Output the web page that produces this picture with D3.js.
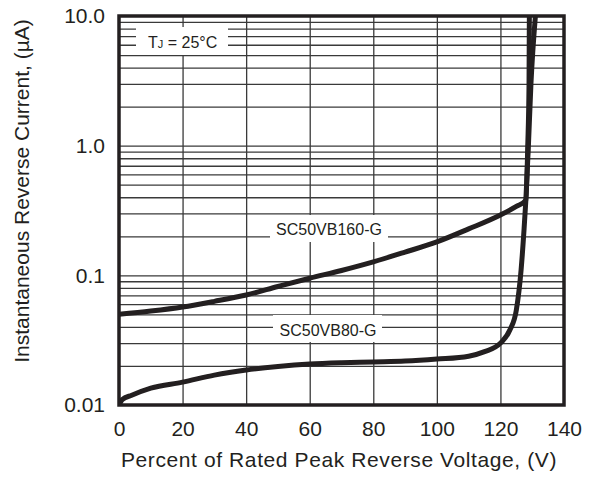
<!DOCTYPE html>
<html>
<head>
<meta charset="utf-8">
<script src="https://cdn.jsdelivr.net/npm/d3@7"></script>
<style>
  body { margin: 0; background: #fff; }
  text { font-family: "Liberation Sans", Arial, sans-serif; fill: #231f20; }
</style>
</head>
<body>
<script>
// x ticks (percent of rated voltage)
var xTicks = [0, 20, 40, 60, 80, 100, 120, 140]
// y tick values and labels
var yTicks = [0.01, 0.1, 1, 10]
var yTickLabels = ["0.01", "0.1", "1.0", "10.0"]

// SC50VB160-G
var x160 = [0, 10, 20, 30, 40, 50, 60, 70, 80, 90, 100, 110, 120, 125, 128, 128.6, 129.0, 129.1]
var y160 = [0.050, 0.053, 0.057, 0.063, 0.0705, 0.082, 0.095, 0.109, 0.127, 0.151, 0.181, 0.228, 0.292, 0.34, 0.38, 1.0, 3.0, 10]

// SC50VB80-G
var x80 = [0, 1, 4, 10, 20, 30, 40, 50, 60, 70, 80, 90, 100, 110, 115, 120, 123, 125, 126.5, 127.4, 128, 128.8, 129.6, 131]
var y80 = [0.0100, 0.0110, 0.0119, 0.0135, 0.0150, 0.0170, 0.0186, 0.0198, 0.0207, 0.0212, 0.0215, 0.0218, 0.0226, 0.0238, 0.0258, 0.030, 0.038, 0.054, 0.11, 0.22, 0.38, 1.0, 3.0, 10]

var width = 599
var height = 488
var plotLeft = 119, plotRight = 564, plotTop = 16, plotBottom = 405

var xScale = d3.scaleLinear().domain([0, 140]).range([plotLeft, plotRight])
var yScale = d3.scaleLog().domain([0.01, 10]).range([plotBottom, plotTop])

var svg = d3.select("body").append("svg")
    .attr("width", width)
    .attr("height", height)

//minor log grid values
var gridY = []
yScale.ticks().forEach(function (t) {
    if (t > 0.01 && t < 10) gridY.push(t)
})

//horizontal grid
svg.append("g")
    .attr("transform", "translate(" + plotLeft + ",0)")
    .call(d3.axisLeft(yScale).tickValues(gridY).tickSize(-(plotRight - plotLeft)).tickFormat(""))
    .call(g => g.select(".domain").remove())
    .selectAll("line").attr("stroke", "#3a3a3a").attr("stroke-width", 1.3)

//vertical grid
svg.append("g")
    .attr("transform", "translate(0," + plotBottom + ")")
    .call(d3.axisBottom(xScale).tickValues(xTicks.slice(1, -1)).tickSize(-(plotBottom - plotTop)).tickFormat(""))
    .call(g => g.select(".domain").remove())
    .selectAll("line").attr("stroke", "#3a3a3a").attr("stroke-width", 1.3)

//label boxes
function labelBox(x, y, w, h) {
    svg.append("rect")
        .attr("x", x).attr("y", y).attr("width", w).attr("height", h)
        .attr("fill", "#fff")
}
labelBox(136, 27, 92, 28)
labelBox(270, 215, 118, 27)
labelBox(273, 315, 109, 27)

var tj = svg.append("text").attr("x", 148).attr("y", 48).attr("font-size", 16)
tj.append("tspan").text("T")
tj.append("tspan").attr("font-size", 11).text("J")
tj.append("tspan").text(" = 25°C")

svg.append("text").attr("x", 329).attr("y", 235).attr("text-anchor", "middle")
    .attr("font-size", 16).text("SC50VB160-G")
svg.append("text").attr("x", 328).attr("y", 336).attr("text-anchor", "middle")
    .attr("font-size", 16).text("SC50VB80-G")

//curves
svg.append("clipPath").attr("id", "clip")
    .append("rect").attr("x", plotLeft).attr("y", plotTop).attr("width", plotRight - plotLeft).attr("height", plotBottom - plotTop)

var line = d3.line()
    .x(d => xScale(d[0]))
    .y(d => yScale(d[1]))
    .curve(d3.curveMonotoneX)

svg.append("path")
    .datum(d3.zip(x160, y160))
    .attr("clip-path", "url(#clip)")
    .attr("d", line)
    .attr("fill", "none")
    .attr("stroke", "#231f20")
    .attr("stroke-width", 5)

svg.append("path")
    .datum(d3.zip(x80, y80))
    .attr("clip-path", "url(#clip)")
    .attr("d", line)
    .attr("fill", "none")
    .attr("stroke", "#231f20")
    .attr("stroke-width", 5)

//frame
svg.append("rect")
    .attr("x", plotLeft).attr("y", plotTop)
    .attr("width", plotRight - plotLeft).attr("height", plotBottom - plotTop)
    .attr("fill", "none").attr("stroke", "#231f20").attr("stroke-width", 3.5)

//x axis labels
svg.append("g")
    .attr("transform", "translate(0," + plotBottom + ")")
    .call(d3.axisBottom(xScale).tickValues(xTicks).tickSize(0).tickPadding(16))
    .call(g => g.select(".domain").remove())
    .selectAll("text").attr("font-size", 21).attr("font-family", "Liberation Sans, Arial, sans-serif").attr("fill", "#231f20")

//y axis labels
svg.append("g")
    .attr("transform", "translate(" + plotLeft + ",0)")
    .call(d3.axisLeft(yScale).tickValues(yTicks).tickSize(0).tickPadding(14)
        .tickFormat((d, i) => yTickLabels[i]))
    .call(g => g.select(".domain").remove())
    .selectAll("text").attr("font-size", 21).attr("font-family", "Liberation Sans, Arial, sans-serif").attr("fill", "#231f20")

//axis titles
svg.append("text")
    .attr("x", 339).attr("y", 467)
    .attr("text-anchor", "middle")
    .attr("font-size", 21)
    .attr("letter-spacing", 0.6)
    .text("Percent of Rated Peak Reverse Voltage, (V)")

svg.append("text")
    .attr("transform", "translate(29,191) rotate(-90)")
    .attr("text-anchor", "middle")
    .attr("font-size", 21)
    .text("Instantaneous Reverse Current, (µA)")
</script>
</body>
</html>
